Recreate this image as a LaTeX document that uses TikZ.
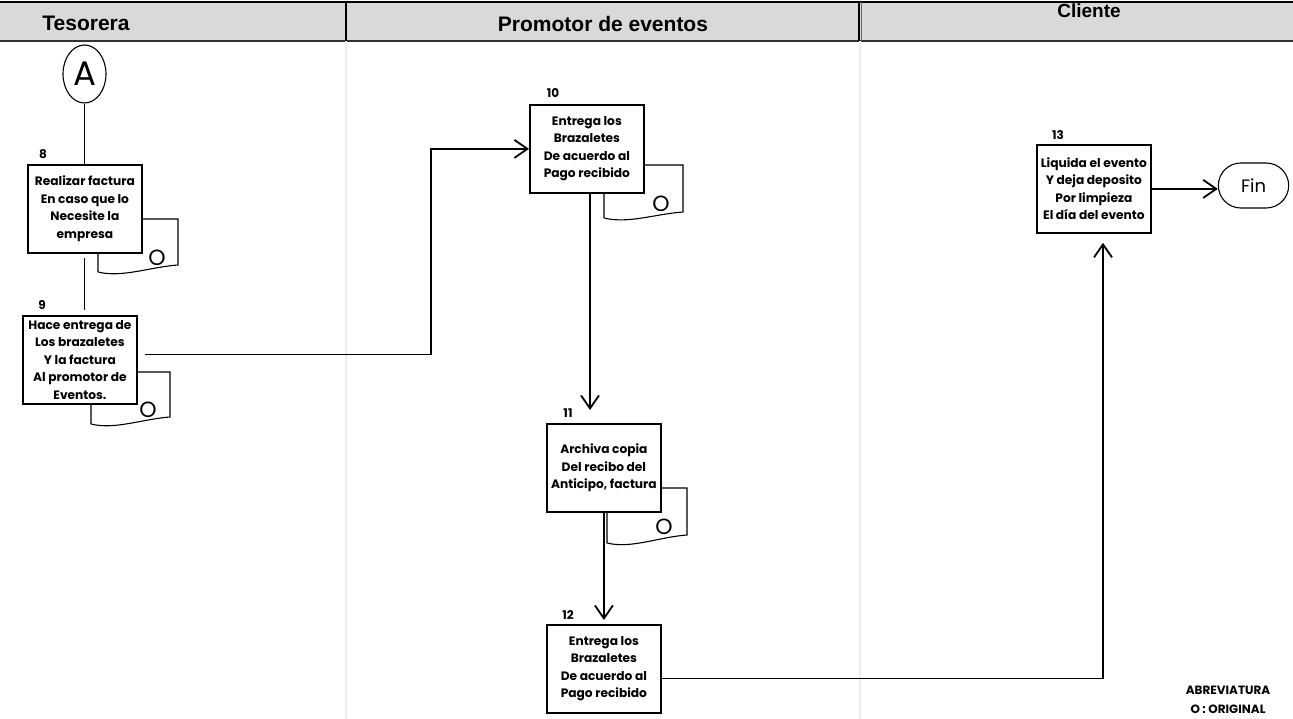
\documentclass[tikz,border=0pt]{standalone}
\usepackage{fontspec}
\setmainfont{Poppins}
\newfontfamily\headfont{Liberation Sans}
\usetikzlibrary{arrows.meta,shapes.misc,shapes.geometric,calc}

% document sheet drawn behind a step box: left, top, right, bottom-right, bottom-left
\newcommand\sheetbehind[5]{%
  \draw[sheetline] (#1,#5) -- (#1,#2) -- (#3,#2) -- (#3,#4)
    .. controls ($(#3,#4)+(-0.35*#3+0.35*#1,2)$) and ($(#1,#5)+(0.3*#3-0.3*#1,6)$) .. (#1,#5);}

\begin{document}
\begin{tikzpicture}[x=1pt,y=-1pt,
  lanehead/.style={font=\headfont\bfseries\fontsize{21}{24}\selectfont},
  stepbox/.style={draw, line width=1.8pt, fill=white, anchor=north west,
    minimum width=114pt, minimum height=88pt, inner sep=0pt, align=center,
    font=\bfseries\fontsize{12.2}{17.5}\selectfont},
  numlbl/.style={font=\bfseries\fontsize{12}{14}\selectfont},
  sheetline/.style={line width=1.1pt},
  sheetmark/.style={font=\fontsize{22}{22}\selectfont},
  conn/.style={line width=1.8pt},
  arr/.style={conn, -{Straight Barb[length=13pt,width=18pt,line width=1.8pt]}},
]
\useasboundingbox (0,0) rectangle (1293,719);

% lane header band
\fill[gray!30] (0,2) rectangle (1293,41);
\draw[line width=2pt] (0,2) -- (1293,2);
\draw[line width=1.6pt, black!80] (0,41) -- (1293,41);
% lane separators
\draw[line width=2pt, color={rgb,255:red,238;green,238;blue,228}] (345.5,41) -- (345.5,719);
\draw[line width=2pt, color={rgb,255:red,238;green,238;blue,228}] (859.5,41) -- (859.5,719);
\draw[line width=2pt] (346,2) -- (346,41);
\draw[line width=2pt] (859,2) -- (859,41);
\draw[line width=0.7pt, black!60] (861.5,2) -- (861.5,41);

\node[lanehead] (h1) at (86,23) {Tesorera};
\node[lanehead] (h2) at (603,24) {Promotor de eventos};
\node[lanehead, font=\headfont\bfseries\fontsize{19}{22}\selectfont] (h3) at (1089,11) {Cliente};

% connector A
\node[draw, ellipse, line width=1.1pt, minimum width=43pt, minimum height=58pt, inner sep=0pt,
  font=\fontsize{34}{34}\selectfont] (A) at (84.5,74) {A};

% document sheets (originals)
\sheetbehind{98}{219}{178}{265}{272}
\node[sheetmark] (o8) at (157,258) {O};
\sheetbehind{91}{372}{170}{417}{424}
\node[sheetmark] (o9) at (148,410) {O};
\sheetbehind{604}{165}{683}{212}{218}
\node[sheetmark] (o10) at (661,204) {O};
\sheetbehind{607}{488}{687}{535}{543}
\node[sheetmark] (o11) at (664,527) {O};

% steps
\node[stepbox] (b8) at (27,164) {Realizar factura\\En caso que lo\\Necesite la\\empresa};
\node[stepbox] (b9) at (22,315) {Hace entrega de\\Los brazaletes\\Y la factura\\Al promotor de\\Eventos.};
\node[stepbox] (b10) at (529,104) {Entrega los\\Brazaletes\\De acuerdo al\\Pago recibido};
\node[stepbox] (b11) at (546,423) {Archiva copia\\Del recibo del\\Anticipo, factura};
\node[stepbox] (b12) at (546,624) {Entrega los\\Brazaletes\\De acuerdo al\\Pago recibido};
\node[stepbox] (b13) at (1036,144) {Liquida el evento\\Y deja deposito\\Por limpieza\\El día del evento};

\node[numlbl] (n8) at ($(b8.north west)+(16,-10)$) {8};
\node[numlbl] (n9) at ($(b9.north west)+(20,-10)$) {9};
\node[numlbl] (n10) at ($(b10.north west)+(24,-11)$) {10};
\node[numlbl] (n11) at ($(b11.north west)+(22,-10)$) {11};
\node[numlbl] (n12) at ($(b12.north west)+(22,-9)$) {12};
\node[numlbl] (n13) at ($(b13.north west)+(22,-9)$) {13};

% end terminator
\node[draw, rounded rectangle, line width=1.1pt, minimum width=77pt, minimum height=45pt,
  font=\fontsize{18}{20}\selectfont] (fin) at (1253.5,185.5) {Fin};

% flow
\coordinate (j9) at (431,250);
\coordinate (x10) at (590,0);
\coordinate (x13) at (1103,0);

\draw[conn] (A.south) -- (A.south |- b8.north);
\draw[conn] ([yshift=-4pt]b8.south -| A.south) -- ([yshift=5pt]b9.north -| A.south);
\draw[arr] ($(b9.east)+(7,-5.5)$) -| (j9) |- (b10.west);
\draw[arr] (b10.south -| x10) -- ([yshift=13pt]b11.north -| x10);
\draw[arr] (b11.south) -- ([yshift=4pt]b12.north);
\draw[arr] ($(b12.east)+(0,9.5)$) -| ([yshift=-9pt]b13.south -| x13);
\draw[arr] (b13.east) -- (b13.east -| fin.west);

% abbreviation legend
\node[align=center, font=\bfseries\fontsize{12}{19}\selectfont] (legend) at (1228,700)
  {ABREVIATURA\\O : ORIGINAL};
\end{tikzpicture}
\end{document}
